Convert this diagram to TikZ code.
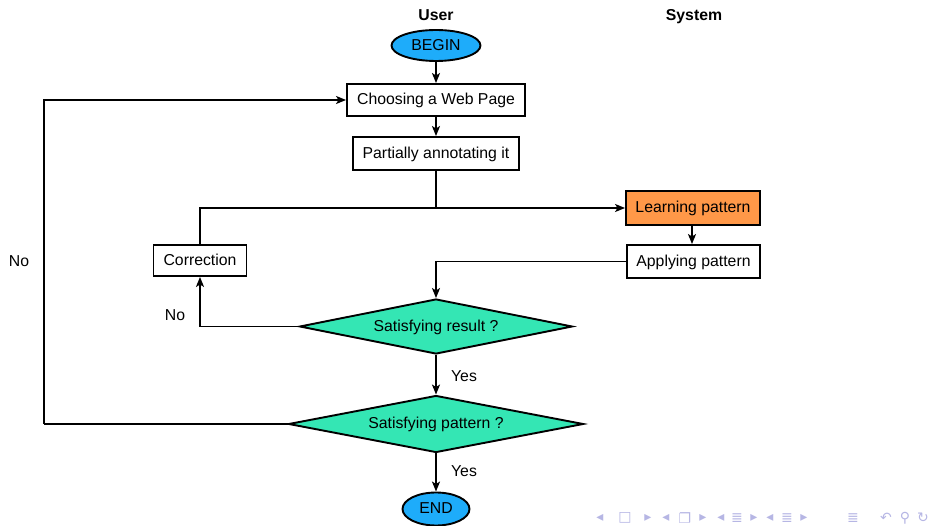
\documentclass[tikz,border=0pt]{standalone}
\usepackage{fontspec}
\setmainfont{Liberation Sans}
\newfontfamily\symfont{DejaVu Sans}
\usetikzlibrary{shapes.geometric,arrows.meta}
\definecolor{beginblue}{RGB}{30,172,250}
\definecolor{learnorange}{RGB}{255,152,72}
\definecolor{diamondgreen}{RGB}{52,230,180}
\definecolor{navcol}{RGB}{182,182,228}
\tikzset{
  txt/.style={font=\fontsize{15.8}{18}\selectfont, text height=11pt, text depth=1pt},
  box/.style={txt, draw, line width=1.9pt, rectangle, inner sep=0pt, fill=white},
  term/.style={txt, draw, line width=1.9pt, ellipse, inner sep=0pt, fill=beginblue},
  decide/.style={txt, draw, line width=1.9pt, diamond, inner sep=0pt, fill=diamondgreen},
  conn/.style={line width=1.9pt},
  arr/.style={conn, -{Stealth[length=10pt,width=8pt,inset=2.5pt]}},
  lbl/.style={txt, inner sep=0pt},
  nav/.style={inner sep=0pt, text=navcol, font=\symfont\fontsize{14}{15}\selectfont}
}
\begin{document}
\begin{tikzpicture}[x=1pt,y=-1pt]
\useasboundingbox (0,0) rectangle (935,526);
% headers
\node[lbl, font=\fontsize{15.8}{18}\selectfont\bfseries] (user) at (436,16) {User};
\node[lbl, font=\fontsize{15.8}{18}\selectfont\bfseries] (system) at (694,16) {System};
% nodes
\node[term, minimum width=89pt, minimum height=31pt] (begin) at (436,45.5) {BEGIN};
\node[box, minimum width=178pt, minimum height=32pt] (choose) at (436,100) {Choosing a Web Page};
\node[box, minimum width=166pt, minimum height=33pt] (partial) at (436,153.5) {Partially annotating it};
\node[box, fill=learnorange, minimum width=134pt, minimum height=34pt] (learn) at (693,208) {Learning pattern};
\node[box, minimum width=133pt, minimum height=33pt] (apply) at (693.5,261.5) {Applying pattern};
\node[box, minimum width=93pt, minimum height=31pt] (corr) at (200,260.5) {Correction};
\node[decide, shape aspect=4.96, minimum width=273pt, minimum height=55pt] (d1) at (436,326.5) {Satisfying result ?};
\node[decide, shape aspect=5.18, minimum width=295pt, minimum height=57pt] (d2) at (436,424) {Satisfying pattern ?};
\node[term, minimum width=67pt, minimum height=33pt] (end) at (436,509) {END};
% labels
\node[lbl] (no1) at (19,262) {No};
\node[lbl] (no2) at (175,316) {No};
\node[lbl] (yes1) at (464,376.5) {Yes};
\node[lbl] (yes2) at (464,471.5) {Yes};
% connectors
\coordinate (join) at (partial.south |- learn.west);
\coordinate (lft) at (44,424);
\draw[arr] (begin) -- (choose);
\draw[arr] (choose) -- (partial);
\draw[conn] (partial.south) -- (join);
\draw[arr] (corr.north) |- (learn.west);
\draw[arr] (learn.south -| 692,0) -- (apply.north -| 692,0);
\draw[arr] (apply.west) -| (d1.north);
\draw[arr] (d1.west) -| (corr.south);
\draw[arr] (d1.south) -- (d2.north);
\draw[conn] (d2.west) -- (lft);
\draw[arr] (lft) |- (choose.west);
\draw[arr] (d2.south) -- (end.north);
% navigation symbols
\node[nav] (n1) at (600,518) {◂};
\node[nav] (n2) at (625,518) {□};
\node[nav] (n3) at (648,518) {▸};
\node[nav] (n4) at (666,518) {◂};
\node[nav] (n5) at (685,518) {❐};
\node[nav] (n6) at (703,518) {▸};
\node[nav] (n7) at (721,518) {◂};
\node[nav] (n8) at (737,518) {≣};
\node[nav] (n9) at (754,518) {▸};
\node[nav] (n10) at (770,518) {◂};
\node[nav] (n11) at (787,518) {≣};
\node[nav] (n12) at (804,518) {▸};
\node[nav] (n13) at (853,518) {≣};
\node[nav] (n14) at (886,518) {↶};
\node[nav] (n15) at (905,518) {⚲};
\node[nav] (n16) at (923,518) {↻};
\end{tikzpicture}
\end{document}
